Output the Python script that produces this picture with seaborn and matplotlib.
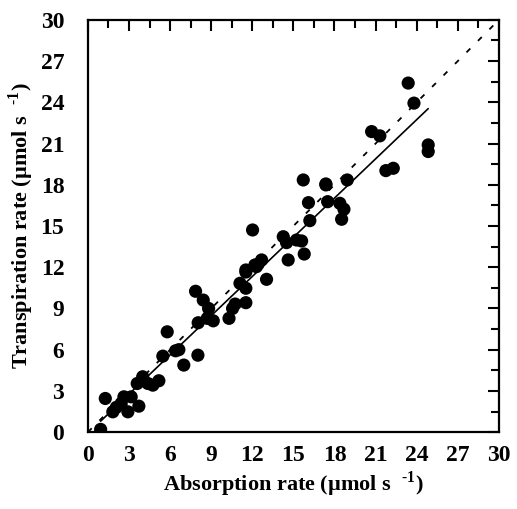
import numpy as np
import pandas as pd
import matplotlib
matplotlib.use("Agg")
import matplotlib.pyplot as plt
import seaborn as sns
from matplotlib.ticker import MultipleLocator
from matplotlib.font_manager import FontProperties

# Water absorption vs. transpiration measurements (µmol s-1)
absorption = [0.93, 1.27, 1.82, 2.07, 2.43, 2.63, 2.92, 3.16, 3.72, 3.60,
              4.00, 4.38, 4.74, 5.18, 5.47, 5.79, 6.40, 6.64, 7.00, 8.03,
              7.86, 8.42, 8.81, 8.05, 8.71, 9.15, 10.30, 10.56, 10.75, 11.10,
              11.53, 11.53, 11.53, 12.19, 12.43, 12.68, 13.04, 12.02, 15.72, 17.37,
              18.93, 16.10, 17.50, 18.39, 18.69, 18.52, 16.20, 14.26, 14.50, 15.23,
              15.60, 15.79, 14.62, 12.30, 11.53, 20.71, 21.31, 21.75, 22.29, 17.37,
              23.80, 23.38, 24.84, 24.84]
transpiration = [0.20, 2.45, 1.48, 1.80, 2.09, 2.57, 1.48, 2.57, 1.89, 3.54,
                 4.03, 3.54, 3.42, 3.74, 5.53, 7.30, 5.92, 6.00, 4.88, 5.60,
                 10.25, 9.61, 9.00, 7.96, 8.28, 8.10, 8.28, 9.00, 9.32, 10.83,
                 10.47, 11.65, 9.42, 12.16, 12.23, 12.53, 11.12, 14.71, 18.35, 18.06,
                 18.35, 16.70, 16.77, 16.65, 16.22, 15.49, 15.39, 14.22, 13.79, 13.98,
                 13.91, 12.96, 12.53, 12.04, 11.80, 21.87, 21.56, 19.03, 19.20, 17.99,
                 23.94, 25.40, 20.90, 20.42]

tick_values = np.arange(0, 31, 3)
one_to_one = [0, 30]

df = pd.DataFrame({"absorption": absorption, "transpiration": transpiration})

sns.set_style("white")
plt.rcParams["font.family"] = ["Liberation Serif", "DejaVu Serif"]
plt.rcParams["font.weight"] = "bold"
plt.rcParams["axes.labelweight"] = "bold"
plt.rcParams["text.color"] = "black"
plt.rcParams["mathtext.fontset"] = "custom"
plt.rcParams["mathtext.rm"] = "Liberation Serif:bold"
plt.rcParams["mathtext.bf"] = "Liberation Serif:bold"

tick_font = FontProperties(family="Liberation Serif", weight="bold", size=17)

fig = plt.figure(figsize=(5.17, 5.09), dpi=100)
ax = fig.add_axes([0.170, 0.151, 0.795, 0.810])

# 1:1 reference line
ax.plot(one_to_one, one_to_one, color="black", lw=1.3, ls=(0, (3, 6)), zorder=1)

# Measurements with least-squares fit
sns.regplot(data=df, x="absorption", y="transpiration", ax=ax, ci=None,
            truncate=True,
            scatter_kws=dict(s=90, color="black", edgecolor="none", alpha=1, zorder=3),
            line_kws=dict(color="black", lw=1.2, zorder=2))

ax.set_xlim(0, 30)
ax.set_ylim(0, 30)
ax.xaxis.set_minor_locator(MultipleLocator(1.5))
ax.yaxis.set_minor_locator(MultipleLocator(1.5))
ax.tick_params(which="both", direction="in", top=True, right=True,
               width=1.5, colors="black")
ax.tick_params(which="major", length=8)
ax.tick_params(axis="x", which="major", pad=9)
ax.tick_params(axis="y", which="major", pad=17)
ax.tick_params(which="minor", length=6)

ax.set_xticks(tick_values)
ax.set_yticks(tick_values)
ax.set_xticklabels([str(v) for v in tick_values], fontproperties=tick_font,
                   color="black")
ax.set_yticklabels([str(v) for v in tick_values], fontproperties=tick_font,
                   color="black")

for sp in ax.spines.values():
    sp.set_linewidth(1.6)
    sp.set_color("black")

ax.set_xlabel(r"Absorption rate (µmol s  $^{\text{-1}}$)", fontsize=16,
              fontweight="bold", color="black", labelpad=3)
ax.set_ylabel(r"Transpiration rate (µmol s  $^{\text{-1}}$)", fontsize=16,
              fontweight="bold", color="black", labelpad=3)

fig.savefig("out.png", dpi=100)
